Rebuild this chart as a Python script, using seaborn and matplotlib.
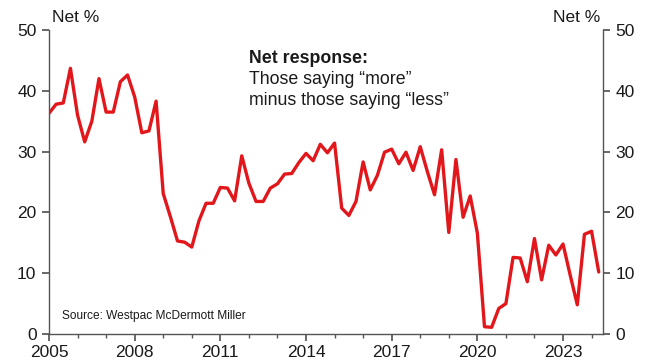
import matplotlib
matplotlib.use("Agg")
import matplotlib.pyplot as plt
import seaborn as sns
import numpy as np
import pandas as pd
from matplotlib.ticker import MultipleLocator

# Quarterly net response (%), 2005 Q1 .. 2024 Q2
start_year = 2005
net_pct = [
    36.3, 37.8, 38.0, 43.7, 36.0, 31.6, 35.0, 42.0, 36.5, 36.5,
    41.5, 42.6, 39.0, 33.1, 33.4, 38.3, 23.1, 19.3, 15.3, 15.1,
    14.3, 18.6, 21.5, 21.5, 24.1, 24.0, 21.9, 29.3, 24.8, 21.8,
    21.8, 24.0, 24.7, 26.3, 26.4, 28.2, 29.7, 28.5, 31.2, 29.8,
    31.4, 20.7, 19.5, 21.8, 28.3, 23.7, 26.1, 29.9, 30.4, 28.0,
    29.9, 26.9, 30.8, 26.7, 22.9, 30.3, 16.7, 28.7, 19.2, 22.7,
    16.6, 1.2, 1.1, 4.2, 5.0, 12.6, 12.5, 8.6, 15.7, 8.9,
    14.6, 13.0, 14.8, 9.7, 4.8, 16.4, 16.9, 10.2,
]
quarters = [start_year + q / 4 for q in range(len(net_pct))]
year_ticks = [2005, 2008, 2011, 2014, 2017, 2020, 2023]
y_ticks = [0, 10, 20, 30, 40, 50]

df = pd.DataFrame({"t": quarters, "v": net_pct})

sns.set_theme(style="ticks")
plt.rcParams["font.family"] = ["Liberation Sans", "DejaVu Sans"]

fig = plt.figure(figsize=(6.52, 3.62), dpi=100)
ax = fig.add_axes([49 / 652, 1 - 334 / 362, (603 - 49) / 652, (334 - 30) / 362])

sns.lineplot(data=df, x="t", y="v", ax=ax, color="#E2171C", linewidth=2.4)

ax.set_xlim(2005, 2024.4)
ax.set_ylim(0, 50)
ax.set_xticks(year_ticks)
ax.set_xticklabels([str(y) for y in year_ticks])
ax.xaxis.set_minor_locator(MultipleLocator(1))
ax.set_yticks(y_ticks)
ax.set_xlabel("")
ax.set_ylabel("")

spine_col = "#555555"
for s in ["left", "right", "bottom"]:
    ax.spines[s].set_visible(True)
    ax.spines[s].set_color(spine_col)
    ax.spines[s].set_linewidth(1.0)
ax.spines["top"].set_visible(False)

ax.tick_params(axis="y", which="both", left=True, right=True, labelleft=True,
               labelright=True, direction="out", length=5, color=spine_col,
               labelsize=12.5, labelcolor="#1a1a1a", pad=4)
ax.tick_params(axis="x", which="major", direction="out", length=5, color=spine_col,
               labelsize=12.5, labelcolor="#1a1a1a", pad=3)
ax.tick_params(axis="x", which="minor", direction="out", length=3, color=spine_col)

ax.text(0.005, 1.04, "Net %", transform=ax.transAxes, ha="left", va="center",
        fontsize=12.5, color="#1a1a1a")
ax.text(0.995, 1.04, "Net %", transform=ax.transAxes, ha="right", va="center",
        fontsize=12.5, color="#1a1a1a")

ax.text(2012.0, 45.3, "Net response:", fontsize=12.8, fontweight="bold",
        ha="left", va="center", color="#1a1a1a")
ax.text(2012.0, 41.85, "Those saying \u201cmore\u201d", fontsize=12.8,
        ha="left", va="center", color="#1a1a1a")
ax.text(2012.0, 38.4, "minus those saying \u201cless\u201d", fontsize=12.8,
        ha="left", va="center", color="#1a1a1a")

ax.text(2005.45, 3.0, "Source: Westpac McDermott Miller", fontsize=8.6,
        ha="left", va="center", color="#1a1a1a")

fig.savefig("out.png", dpi=100)
